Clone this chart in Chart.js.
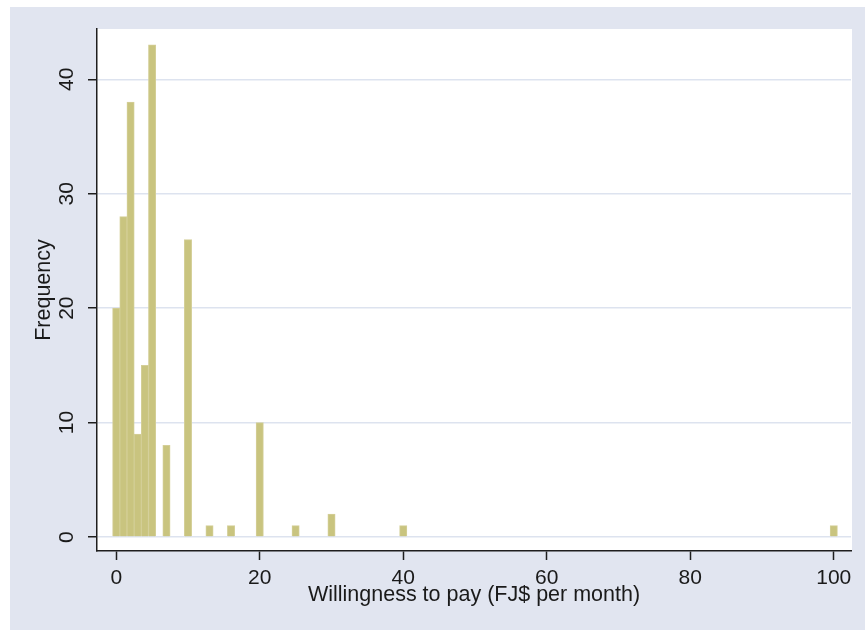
<!DOCTYPE html>
<html>
<head>
<meta charset="utf-8">
<script src="https://cdn.jsdelivr.net/npm/chart.js@4.4.1/dist/chart.umd.min.js"></script>
<style>
  html, body { margin: 0; padding: 0; background: #e1e5f0; }
  #wrap { width: 865px; height: 630px; position: relative; }
</style>
</head>
<body>
<div id="wrap"><canvas id="c" width="865" height="630"></canvas></div>
<script>
// Willingness to pay values (FJ$ per month) and their frequencies
const wtpValues = [0, 1, 2, 3, 4, 5, 7, 10, 13, 16, 20, 25, 30, 40, 100];
const frequencies = [20, 28, 38, 9, 15, 43, 8, 26, 1, 1, 10, 1, 2, 1, 1];
const xTickValues = [0, 20, 40, 60, 80, 100];
const yTickValues = [0, 10, 20, 30, 40];
const xTitle = 'Willingness to pay (FJ$ per month)';
const yTitle = 'Frequency';

const FONT = '"Liberation Sans", Arial, "DejaVu Sans", sans-serif';
const OUTER = '#e1e5f0';
const GRID = '#dde3ef';
const AXIS = '#1e1e1e';

const bgPlugin = {
  id: 'bg',
  beforeDraw(chart) {
    const ctx = chart.ctx;
    const a = chart.chartArea;
    ctx.save();
    ctx.fillStyle = '#ffffff';
    ctx.fillRect(0, 0, chart.width, chart.height);
    ctx.fillStyle = OUTER;
    ctx.fillRect(10, 7, chart.width - 10, chart.height - 7);
    ctx.fillStyle = '#ffffff';
    ctx.fillRect(a.left, a.top, a.right - a.left + 1, a.bottom - a.top);
    ctx.restore();
  }
};

new Chart(document.getElementById('c'), {
  type: 'bar',
  data: {
    datasets: [{
      data: wtpValues.map((v, i) => ({ x: v, y: frequencies[i] })),
      backgroundColor: '#c9c47f',
      borderColor: '#d4cf98',
      borderWidth: 1,
      barPercentage: 1,
      categoryPercentage: 1,
      inflateAmount: 0.4
    }]
  },
  options: {
    responsive: false,
    animation: false,
    devicePixelRatio: 1,
    layout: { padding: { top: 29, right: 14, left: 0, bottom: 0 } },
    plugins: { legend: { display: false }, tooltip: { enabled: false } },
    scales: {
      x: {
        type: 'linear',
        offset: false,
        min: -2.68,
        max: 102.4,
        afterBuildTicks: s => { s.ticks = xTickValues.map(v => ({ value: v })); },
        afterFit: s => { s.height = 79; },
        grid: { display: true, offset: false, drawOnChartArea: false, tickLength: 9, tickColor: AXIS, tickWidth: 1.5 },
        border: { display: true, color: AXIS, width: 1.5 },
        ticks: { font: { family: FONT, size: 21 }, color: '#1a1a1a', padding: 6, maxRotation: 0, minRotation: 0 },
        title: { display: true, text: xTitle, font: { family: FONT, size: 21.5, lineHeight: 1.2 }, color: '#1a1a1a', padding: { top: 0, bottom: 22 } }
      },
      y: {
        type: 'linear',
        min: -1.22,
        max: 44.4,
        afterBuildTicks: s => { s.ticks = yTickValues.map(v => ({ value: v })); },
        afterFit: s => { s.width = 97; },
        grid: { display: true, drawOnChartArea: true, color: GRID, lineWidth: 1.5, tickLength: 9, tickColor: AXIS, tickWidth: 1.5 },
        border: { display: true, color: AXIS, width: 1.5 },
        ticks: { font: { family: FONT, size: 21 }, color: '#1a1a1a', padding: 9, minRotation: 90, maxRotation: 90, crossAlign: 'center' },
        title: { display: true, text: yTitle, font: { family: FONT, size: 21.5, lineHeight: 1.2 }, color: '#1a1a1a', padding: { top: 31, bottom: 0 } }
      }
    }
  },
  plugins: [bgPlugin]
});
</script>
</body>
</html>
